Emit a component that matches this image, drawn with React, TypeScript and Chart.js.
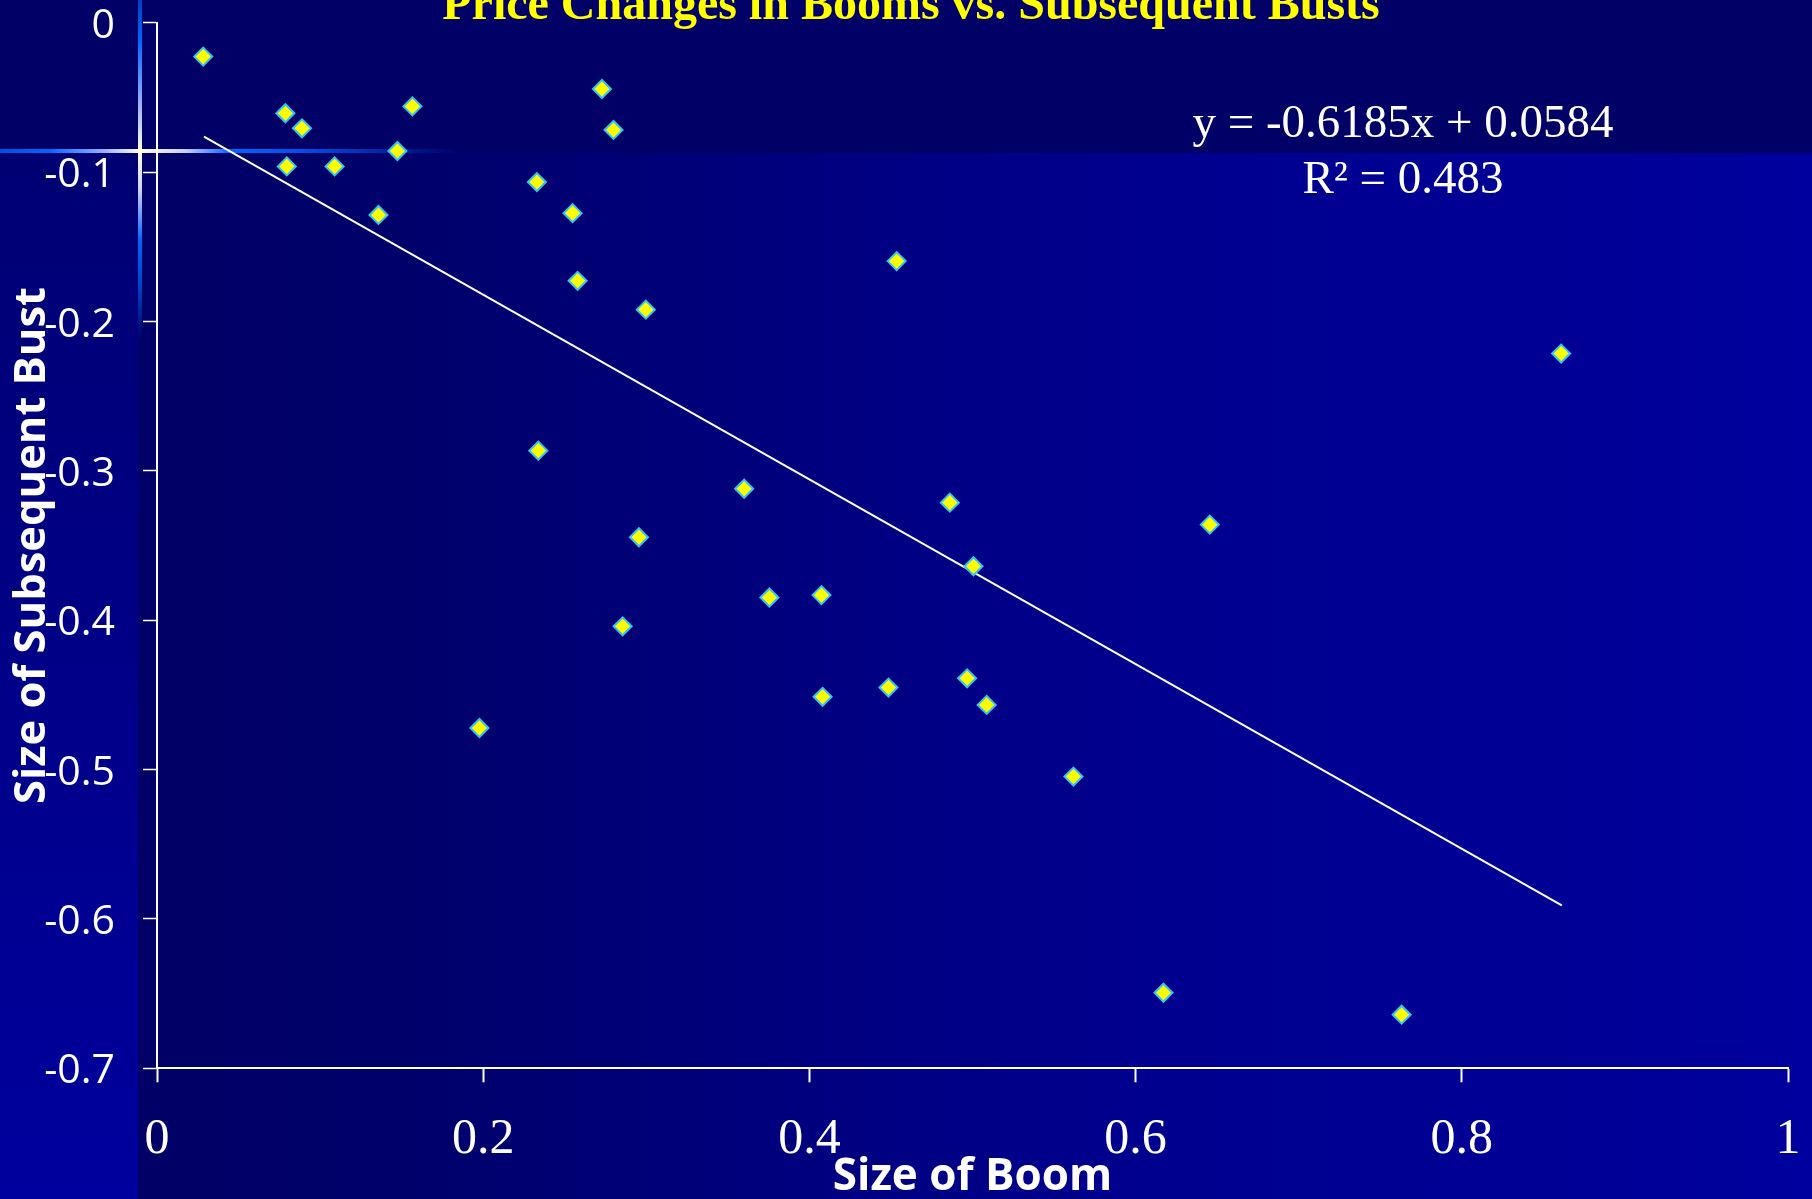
import React, { useEffect, useRef } from "react";
import { Chart, registerables } from "chart.js";

Chart.register(...registerables);

// ---- data ----
const chartTitle = "Price Changes in Booms vs. Subsequent Busts";
const xAxisTitle = "Size of Boom";
const yAxisTitle = "Size of Subsequent Bust";
const trendLabel = ["y = -0.6185x + 0.0584", "R² = 0.483"];

const boomSizes = [
  0.0283, 0.0787, 0.0889, 0.0796, 0.1089, 0.1474, 0.1566, 0.1358, 0.2728, 0.2799,
  0.2329, 0.2548, 0.2579, 0.2997, 0.4535, 0.8609, 0.2338, 0.36, 0.2955, 0.4861,
  0.6455, 0.5006, 0.3755, 0.4074, 0.2855, 0.1977, 0.4081, 0.4485, 0.4967, 0.5087,
  0.5619, 0.6171, 0.7631,
];
const bustSizes = [
  -0.0227, -0.0606, -0.0707, -0.0962, -0.0962, -0.0859, -0.056, -0.1287, -0.0444, -0.0718,
  -0.1067, -0.1275, -0.1728, -0.1921, -0.1596, -0.2215, -0.2865, -0.312, -0.3445, -0.3213,
  -0.336, -0.3639, -0.3848, -0.3832, -0.4041, -0.4722, -0.4513, -0.4451, -0.4389, -0.4567,
  -0.5047, -0.6494, -0.6641,
];
const trendX = [0.0288, 0.8613];
const trendY = [-0.0763, -0.591];

const xTicks = [0, 0.2, 0.4, 0.6, 0.8, 1];
const yTicks = [0, -0.1, -0.2, -0.3, -0.4, -0.5, -0.6, -0.7];

const W = 1812;
const H = 1199;

const zeroPadding = (s: any) => {
  s.paddingTop = 0;
  s.paddingBottom = 0;
  s.paddingLeft = 0;
  s.paddingRight = 0;
};

export default function App() {
  const canvasRef = useRef<HTMLCanvasElement | null>(null);

  useEffect(() => {
    document.body.style.margin = "0";
    document.body.style.overflow = "hidden";
    const canvas = canvasRef.current;
    if (!canvas) return;
    const chart = new Chart(canvas, {
      type: "scatter",
      data: {
        datasets: [
          {
            label: "Booms vs busts",
            data: boomSizes.map((x, i) => ({ x, y: bustSizes[i] })),
            pointStyle: "rectRot",
            pointRadius: 9,
            pointHoverRadius: 9,
            backgroundColor: "#FFFF00",
            borderColor: "#33C4F0",
            borderWidth: 2,
          },
          {
            label: "Trend",
            data: trendX.map((x, i) => ({ x, y: trendY[i] })),
            showLine: true,
            pointRadius: 0,
            borderColor: "#FFFFFF",
            borderWidth: 2,
            fill: false,
          },
        ],
      },
      options: {
        responsive: false,
        animation: false,
        devicePixelRatio: 1,
        layout: { padding: { top: 22.7, right: 24, left: 0, bottom: 0 } },
        plugins: {
          legend: { display: false },
          tooltip: { enabled: false },
          title: { display: false },
        },
        scales: {
          x: {
            type: "linear",
            min: 0,
            max: 1,
            afterFit: (s: any) => {
              s.height = 130.7;
              zeroPadding(s);
            },
            afterBuildTicks: (s: any) => {
              s.ticks = xTicks.map((v) => ({ value: v }));
            },
            ticks: {
              color: "#FFFFFF",
              autoSkip: false,
              maxRotation: 0,
              padding: 33,
              font: { family: "'Liberation Serif', serif", size: 50, lineHeight: 1 },
              callback: (v: any) => String(v),
            },
            grid: {
              drawOnChartArea: false,
              drawTicks: true,
              tickLength: 14,
              tickColor: "#FFFFFF",
              tickWidth: 2,
            },
            border: { display: true, color: "#FFFFFF", width: 2 },
            title: {
              display: true,
              text: xAxisTitle,
              color: "#FFFFFF",
              padding: 0,
              font: { family: "'Open Sans', sans-serif", size: 44, weight: "bold", lineHeight: 1 },
            },
          },
          y: {
            type: "linear",
            min: -0.7,
            max: 0,
            afterFit: (s: any) => {
              s.width = 157;
              zeroPadding(s);
            },
            afterBuildTicks: (s: any) => {
              s.ticks = yTicks.map((v) => ({ value: v }));
            },
            ticks: {
              color: "#FFFFFF",
              autoSkip: false,
              padding: 28,
              labelOffset: 3.5,
              font: { family: "'Open Sans', sans-serif", size: 41, lineHeight: 1 },
              callback: (v: any) => String(v),
            },
            grid: {
              drawOnChartArea: false,
              drawTicks: true,
              tickLength: 14,
              tickColor: "#FFFFFF",
              tickWidth: 1.5,
            },
            border: { display: true, color: "#FFFFFF", width: 2 },
            title: {
              display: true,
              text: yAxisTitle,
              color: "#FFFFFF",
              padding: { top: 11, bottom: 0 },
              font: { family: "'Open Sans', sans-serif", size: 43.5, weight: "bold", lineHeight: 1 },
            },
          },
        },
      },
    });
    return () => chart.destroy();
  }, []);

  return (
    <div
      style={{
        position: "absolute",
        left: 0,
        top: 0,
        width: W,
        height: H,
        overflow: "hidden",
        background: "#000066",
      }}
    >
      {/* left strip */}
      <div
        style={{
          position: "absolute",
          left: 0,
          top: 153,
          width: 138,
          height: H - 153,
          background: "linear-gradient(to bottom, #000072 0%, #000088 50%, #00009E 100%)",
        }}
      />
      {/* main lower area */}
      <div
        style={{
          position: "absolute",
          left: 138,
          top: 153,
          width: W - 138,
          height: H - 153,
          background:
            "linear-gradient(to right, #000066 0px, #00006A 250px, #00007E 650px, #00008E 1000px, #000096 1450px, #00009E 1674px)",
        }}
      />
      {/* sparkle: horizontal */}
      <div
        style={{
          position: "absolute",
          left: 0,
          top: 149,
          width: 460,
          height: 4,
          background:
            "linear-gradient(to right, #0050E0 0px, #0066FF 50px, #9FB0FF 105px, #FFFFE0 140px, #C8D0FF 185px, #0066FF 230px, #0050E8 300px, rgba(0,0,160,0) 460px)",
        }}
      />
      {/* sparkle: vertical */}
      <div
        style={{
          position: "absolute",
          left: 138,
          top: 0,
          width: 4,
          height: 340,
          background:
            "linear-gradient(to bottom, #0040C0 0px, #0066FF 40px, #9FB0FF 105px, #FFFFE0 151px, #D0D0FF 190px, #0066FF 240px, #0040C0 290px, rgba(0,0,110,0) 340px)",
        }}
      />
      <canvas
        ref={canvasRef}
        width={W}
        height={H}
        style={{ position: "absolute", left: 0, top: 0, display: "block" }}
      />
      {/* chart title (cut by top edge as in the reference) */}
      <div
        style={{
          position: "absolute",
          left: 0,
          top: -21.5,
          width: 1822,
          textAlign: "center",
          fontFamily: "'Liberation Serif', serif",
          fontWeight: "bold",
          fontSize: 48,
          lineHeight: "48px",
          color: "#FFFF00",
          whiteSpace: "nowrap",
        }}
      >
        {chartTitle}
      </div>
      {/* trendline equation */}
      <div
        style={{
          position: "absolute",
          left: 1103,
          top: 92.8,
          width: 600,
          textAlign: "center",
          fontFamily: "'Liberation Serif', serif",
          fontSize: 47,
          lineHeight: "56px",
          color: "#FFFFFF",
          whiteSpace: "nowrap",
        }}
      >
        {trendLabel.map((t) => (
          <div key={t}>{t}</div>
        ))}
      </div>
    </div>
  );
}
